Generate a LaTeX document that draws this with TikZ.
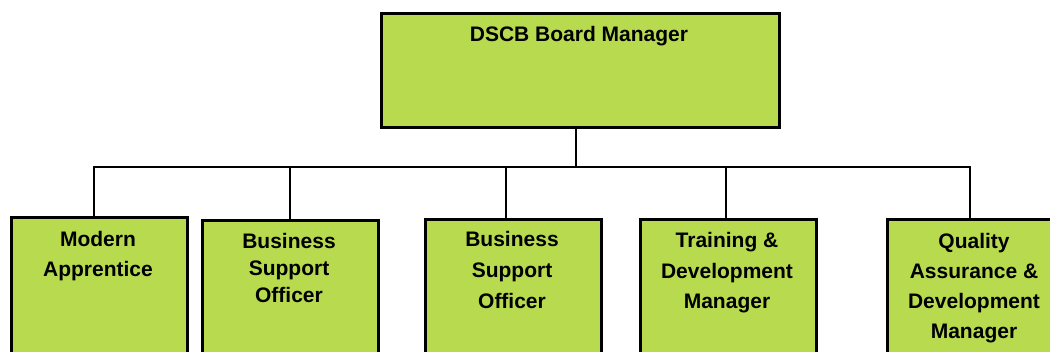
\documentclass[tikz,border=0pt]{standalone}
\usepackage{fontspec}
\setmainfont{Liberation Sans}
\definecolor{boxgreen}{RGB}{184,218,79}
\begin{document}
\begin{tikzpicture}[x=1pt,y=-1pt,
  orgbox/.style={draw=black, line width=2.6pt, fill=boxgreen, inner sep=0pt, anchor=north west},
  lbl/.style={font=\bfseries\fontsize{21}{30}\selectfont, align=center, anchor=base, inner sep=0pt},
  conn/.style={draw=black, line width=2pt}]
\useasboundingbox (0,0) rectangle (1050,352);
\begin{scope}
\clip (0,0) rectangle (1050,352);
% boxes
\node[orgbox, minimum width=398pt, minimum height=114pt] (top) at (380,12) {};
\node[orgbox, minimum width=176pt, minimum height=200pt] (b1) at (10,216) {};
\node[orgbox, minimum width=176pt, minimum height=200pt] (b2) at (201,219) {};
\node[orgbox, minimum width=176pt, minimum height=200pt] (b3) at (424,218) {};
\node[orgbox, minimum width=176pt, minimum height=200pt] (b4) at (639,218) {};
\node[orgbox, minimum width=176pt, minimum height=200pt] (b5) at (886,218) {};
% labels (anchor = baseline of last line)
\node[lbl] (t0) at (579,42) {DSCB Board Manager};
\node[lbl] (t1) at (98,277) {Modern\\Apprentice};
\node[lbl, font=\bfseries\fontsize{21}{27}\selectfont] (t2) at (289,303) {Business\\Support\\Officer};
\node[lbl, font=\bfseries\fontsize{21}{31}\selectfont] (t3) at (512,309) {Business\\Support\\Officer};
\node[lbl, font=\bfseries\fontsize{21}{30.5}\selectfont] (t4) at (727,309) {Training \&\\Development\\Manager};
\node[lbl, font=\bfseries\fontsize{21}{30.3}\selectfont] (t5) at (974,339) {Quality\\Assurance \&\\Development\\Manager};
% connectors
\coordinate (stem) at (576,126);
\coordinate (busL) at (94,167);
\coordinate (busR) at (970,167);
\coordinate (d2) at (290,167);
\coordinate (d3) at (506,167);
\coordinate (d4) at (726,167);
\draw[conn] (stem) -- (stem |- busL);
\draw[conn] (b1.north -| busL) -- (busL) -- (busR) -- (busR |- b5.north);
\draw[conn] (d2) -- (d2 |- b2.north);
\draw[conn] (d3) -- (d3 |- b3.north);
\draw[conn] (d4) -- (d4 |- b4.north);
\end{scope}
\end{tikzpicture}
\end{document}
